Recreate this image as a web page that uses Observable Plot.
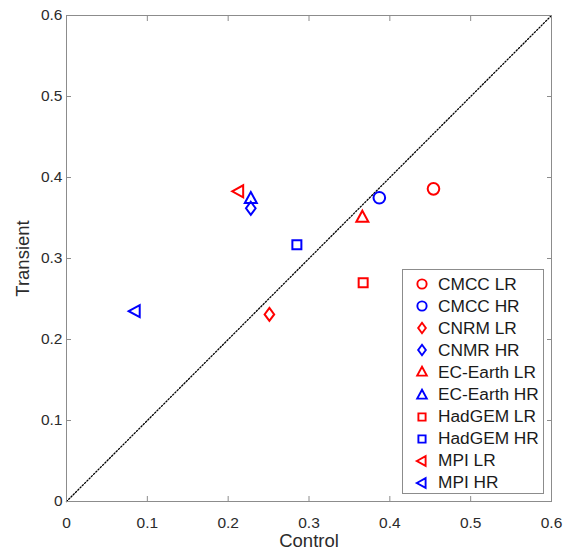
<!DOCTYPE html>
<html>
<head>
<meta charset="utf-8">
<script src="https://cdn.jsdelivr.net/npm/d3@7"></script>
<script src="https://cdn.jsdelivr.net/npm/@observablehq/plot@0.6"></script>
<style>
  html, body { margin: 0; padding: 0; background: #fff; }
  #wrap { position: relative; width: 564px; height: 552px; font-family: Arial, "Liberation Sans", sans-serif; }
  #legend { position: absolute; left: 402px; top: 269px; width: 142px; height: 225px; border: 1px solid #8c8c8c; background: #fff; box-sizing: border-box; }
  .row { position: absolute; left: 0; height: 22px; display: flex; align-items: center; font-size: 17.3px; color: #1a1a1a; white-space: nowrap; }
  .row svg { margin-left: 11px; margin-right: 8px; }
</style>
</head>
<body>
<div id="wrap"><div id="legend"></div></div>
<script>
// ---- data ----
const models = ["CMCC LR", "CMCC HR", "CNRM LR", "CNMR HR", "EC-Earth LR", "EC-Earth HR", "HadGEM LR", "HadGEM HR", "MPI LR", "MPI HR"];
const resolution = ["LR", "HR", "LR", "HR", "LR", "HR", "LR", "HR", "LR", "HR"];
const shapes = ["circle", "circle", "diamond", "diamond", "triangle", "triangle", "square", "square", "triangleLeft", "triangleLeft"];
const controlVals = [0.454, 0.387, 0.251, 0.228, 0.366, 0.228, 0.367, 0.285, 0.213, 0.085];
const transientVals = [0.386, 0.375, 0.231, 0.362, 0.351, 0.374, 0.270, 0.317, 0.383, 0.235];
const ticks = [0, 0.1, 0.2, 0.3, 0.4, 0.5, 0.6];
const diagonal = [0, 0.6];
const resColors = {LR: "#ff0000", HR: "#0000ff"};

// ---- marker shapes (MATLAB-like) ----
function makeSym(k) {
  return {
    circle: {draw(c) { const r = 5.8 * k; c.moveTo(r, 0); c.arc(0, 0, r, 0, 2 * Math.PI); }},
    diamond: {draw(c) { c.moveTo(0, -6.5 * k); c.lineTo(4.8 * k, 0); c.lineTo(0, 6.5 * k); c.lineTo(-4.8 * k, 0); c.closePath(); }},
    triangle: {draw(c) { c.moveTo(0, -6.5 * k); c.lineTo(6 * k, 4.5 * k); c.lineTo(-6 * k, 4.5 * k); c.closePath(); }},
    square: {draw(c) { c.rect(-4.5 * k, -4.5 * k, 9 * k, 9 * k); }},
    triangleLeft: {draw(c) { c.moveTo(-6.5 * k, 0); c.lineTo(4.5 * k, -6 * k); c.lineTo(4.5 * k, 6 * k); c.closePath(); }}
  };
}
const sym = makeSym(1);
const legSym = makeSym(0.8);

const data = models.map((m, i) => ({model: m, res: resolution[i], shape: shapes[i], x: controlVals[i], y: transientVals[i]}));
const shapeKinds = [...new Set(shapes)];

const axisColor = "#8c8c8c";
const textColor = "#2b2b2b";

const chart = Plot.plot({
  width: 564,
  height: 552,
  marginLeft: 66,
  marginRight: 13,
  marginTop: 15,
  marginBottom: 51,
  style: {fontFamily: 'Arial, "Liberation Sans", sans-serif', fontSize: "15px", background: "transparent", color: textColor},
  x: {domain: [0, 0.6], nice: false},
  y: {domain: [0, 0.6], nice: false},
  color: {domain: ["LR", "HR"], range: [resColors.LR, resColors.HR]},
  marks: [
    Plot.frame({stroke: axisColor, strokeWidth: 1}),
    Plot.line(diagonal, {x: d => d, y: d => d, stroke: "#000", strokeWidth: 1.3, strokeDasharray: "1.3,1.9"}),
    // tick labels
    Plot.axisX(ticks, {tickSize: 0, tickPadding: 15, tickFormat: d => String(d), fill: textColor, fontSize: 15.5, label: null}),
    Plot.axisY(ticks, {tickSize: 0, tickPadding: 4, tickFormat: d => String(d), fill: textColor, fontSize: 15.5, label: null}),
    // axis titles
    Plot.axisX(ticks, {tickSize: 0, tickFormat: () => "", fontSize: 18.5, label: "Control", labelAnchor: "center", labelOffset: 45, labelArrow: "none"}),
    Plot.axisY(ticks, {tickSize: 0, tickFormat: () => "", fontSize: 18.5, label: "Transient", labelAnchor: "center", labelOffset: 51, labelArrow: "none"}),
    // inward ticks on all four sides
    Plot.axisX(ticks, {anchor: "bottom", tickSize: -5, tickFormat: () => "", stroke: axisColor, label: null}),
    Plot.axisX(ticks, {anchor: "top", tickSize: -5, tickFormat: () => "", stroke: axisColor, label: null}),
    Plot.axisY(ticks, {anchor: "left", tickSize: -5, tickFormat: () => "", stroke: axisColor, label: null}),
    Plot.axisY(ticks, {anchor: "right", tickSize: -5, tickFormat: () => "", stroke: axisColor, label: null}),
    ...shapeKinds.map(s => Plot.dot(data.filter(d => d.shape === s), {x: "x", y: "y", stroke: "res", symbol: sym[s], r: 6, strokeWidth: 2, fill: "none"}))
  ]
});
document.getElementById("wrap").prepend(chart);

// ---- legend ----
const legend = document.getElementById("legend");
models.forEach((m, i) => {
  const row = document.createElement("div");
  row.className = "row";
  row.style.top = (3 + i * 22.1) + "px";
  const p = d3.path();
  legSym[shapes[i]].draw(p);
  row.innerHTML = `<svg width="16" height="16" viewBox="-8 -8 16 16"><path d="${p.toString()}" fill="none" stroke="${resColors[resolution[i]]}" stroke-width="1.9"/></svg><span>${m}</span>`;
  legend.appendChild(row);
});
</script>
</body>
</html>
